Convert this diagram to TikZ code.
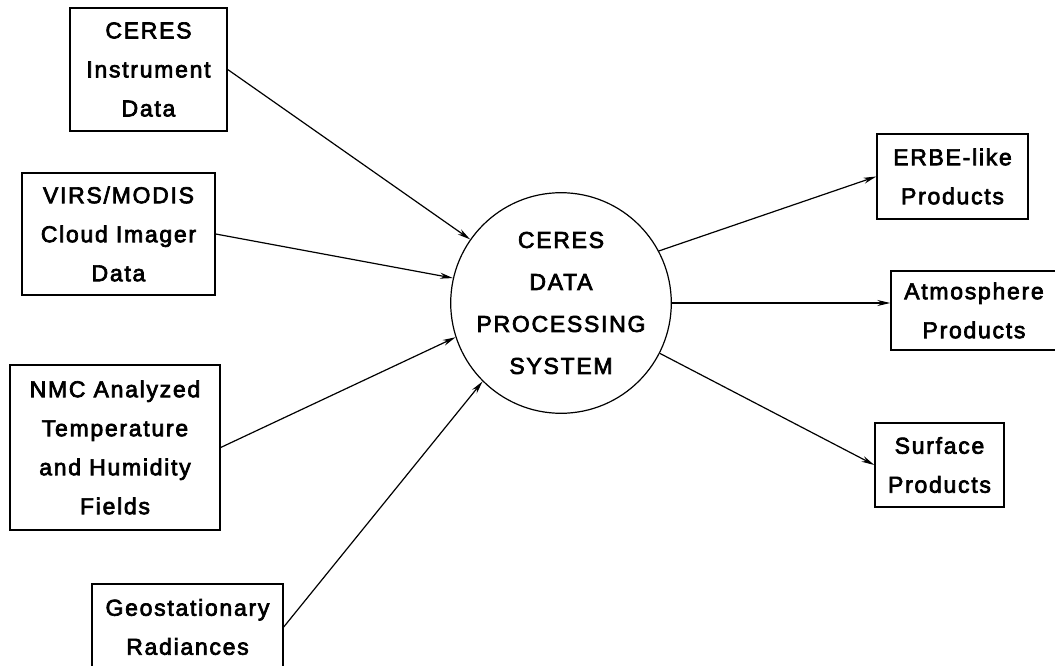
\documentclass[tikz,border=0pt]{standalone}
\usepackage{fontspec}
\setmainfont{Liberation Sans}[LetterSpace=7.5, FakeBold=3]
\usetikzlibrary{arrows.meta}
\newcommand\bxfont{\fontsize{23pt}{39pt}\selectfont}
\newcommand\crfont{\fontsize{23pt}{42pt}\selectfont}
\begin{document}
\begin{tikzpicture}[x=1pt,y=-1pt,
  box/.style={draw, line width=1.4pt, inner sep=0pt, align=center, font=\bxfont},
  proc/.style={draw, circle, line width=1.2pt, minimum size=214pt, inner sep=0pt, align=center, font=\crfont},
  arr/.style={-{Stealth[length=13pt,width=6pt]}, line width=1.2pt}]
\fill[white] (0,0) rectangle (1055,666);
\useasboundingbox (0,0) rectangle (1055,666);
% inputs
\node[box, minimum width=157pt, minimum height=123pt] (ceres) at (148.5,69.5) {CERES\\Instrument\\Data};
\node[box, minimum width=193pt, minimum height=122pt] (virs) at (118.5,234) {VIRS/MODIS\\Cloud Imager\\Data};
\node[box, minimum width=210pt, minimum height=165pt] (nmc) at (115,447.5) {NMC Analyzed\\Temperature\\and Humidity\\Fields};
\node[box, minimum width=191pt, minimum height=86pt] (geo) at (187.5,627) {Geostationary\\Radiances};
% process
\node[proc] (c) at (561,303) {CERES\\DATA\\PROCESSING\\SYSTEM};
% outputs
\node[box, minimum width=151pt, minimum height=85pt] (erbe) at (952.5,176.5) {ERBE-like\\Products};
\node[box, minimum width=166pt, minimum height=79pt] (atm) at (974,310.5) {Atmosphere\\Products};
\node[box, minimum width=129pt, minimum height=84pt] (surf) at (939.5,465) {Surface\\Products};
% connectors
\draw[arr] (ceres.east) -- (c.145.3);
\draw[arr] (virs.east) -- (c.167.5);
\draw[arr] (nmc.east) -- (c.198.6);
\draw[arr] (geo.east) -- (c.225.4);
\draw[arr] (c.28.5) -- (erbe.west);
\draw[arr] (c.east) -- (c.east -| atm.west);
\draw[arr] (c.-27.2) -- (surf.west);
\end{tikzpicture}
\end{document}
